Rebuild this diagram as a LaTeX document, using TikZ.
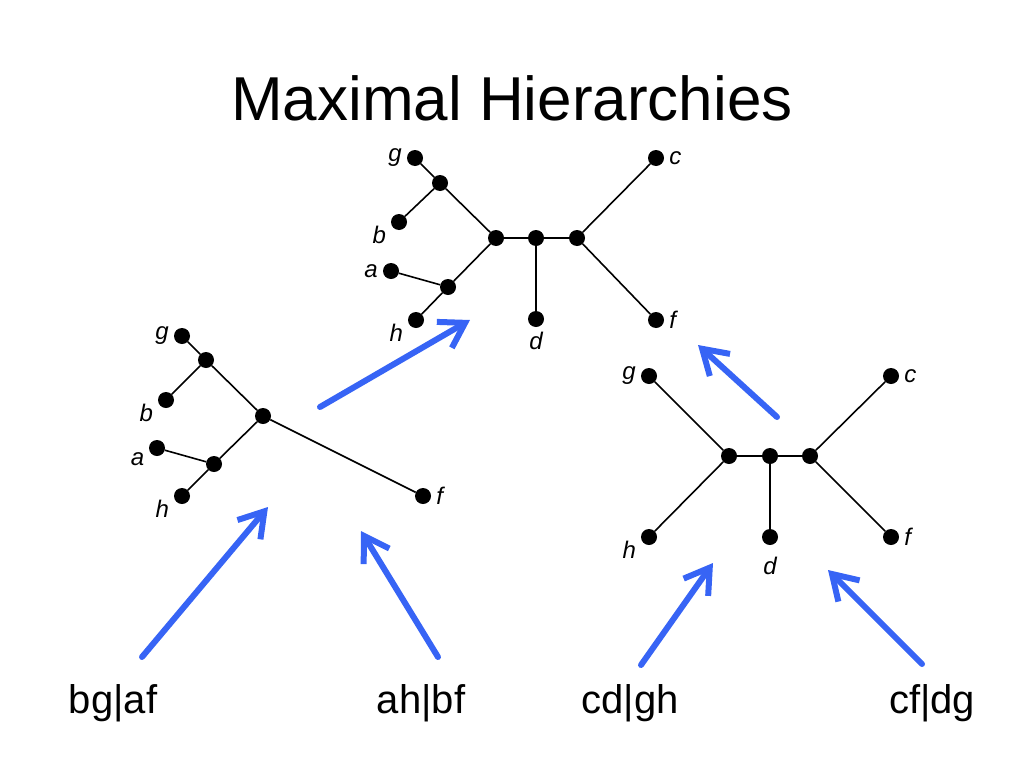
\documentclass[tikz,border=0pt]{standalone}
\usepackage{fontspec}
\setmainfont{Liberation Sans}
\usetikzlibrary{arrows.meta, positioning}
\definecolor{arrowblue}{RGB}{55,100,245}

\begin{document}
\begin{tikzpicture}[x=1pt, y=-1pt,
        dot/.style={circle, fill=black, minimum size=16pt, inner sep=0pt},
        lab/.style={font=\fontsize{24}{28}\selectfont\itshape, inner sep=1pt},
        branch/.style={-, line width=1.6pt},
        refine/.style={-{Straight Barb[length=24pt, width=30pt]}, line width=6pt, line cap=round, arrowblue},
        split/.style={font=\fontsize{40}{48}\selectfont, anchor=base},
        label distance=4pt
    ]
        \useasboundingbox (0,0) rectangle (1024,768);
        \node[font=\fontsize{62}{74}\selectfont, anchor=base] (title) at (512,120) {Maximal Hierarchies};

        % Top tree
        \node[dot, label={[lab]left:g}] (tg) at (415,158) {};
        \node[dot] (tgb) at (440,183) {};
        \node[dot, label={[lab]196:b}] (tb) at (399,222) {};
        \node[dot, label={[lab]left:a}] (ta) at (391,271) {};
        \node[dot] (tah) at (448,287) {};
        \node[dot, label={[lab]195:h}] (th) at (416,320) {};
        \node[dot] (tc1) at (496,238) {};
        \node[dot] (tc2) at (536,238) {};
        \node[dot] (tc3) at (577,238) {};
        \node[dot, label={[lab]below:d}] (td) at (536,319) {};
        \node[dot, label={[lab]right:c}] (tc) at (656,158) {};
        \node[dot, label={[lab]right:f}] (tf) at (656,320) {};

        \draw[branch] (tg) -- (tgb) -- (tc1);
        \draw[branch] (tb) -- (tgb);
        \draw[branch] (ta) -- (tah) -- (tc1);
        \draw[branch] (th) -- (tah);
        \draw[branch] (tc1) -- (tc2) -- (tc3);
        \draw[branch] (tc2) -- (td);
        \draw[branch] (tc3) -- (tc);
        \draw[branch] (tc3) -- (tf);

        % Left tree
        \node[dot, label={[lab]left:g}] (lg) at (182,336) {};
        \node[dot] (lgb) at (206,360) {};
        \node[dot, label={[lab]195:b}] (lb) at (166,400) {};
        \node[dot, label={[lab]197:a}] (la) at (157,448) {};
        \node[dot] (lah) at (214,464) {};
        \node[dot, label={[lab]195:h}] (lh) at (182,496) {};
        \node[dot] (lc) at (263,416) {};
        \node[dot, label={[lab]right:f}] (lf) at (423,496) {};

        \draw[branch] (lg) -- (lgb) -- (lc);
        \draw[branch] (lb) -- (lgb);
        \draw[branch] (la) -- (lah) -- (lc);
        \draw[branch] (lh) -- (lah);
        \draw[branch] (lc) -- (lf);

        % Right tree
        \node[dot, label={[lab]left:g}] (rg) at (649,376) {};
        \node[dot, label={[lab]195:h}] (rh) at (649,537) {};
        \node[dot] (r1) at (729,456) {};
        \node[dot] (r2) at (770,456) {};
        \node[dot] (r3) at (810,456) {};
        \node[dot, label={[lab, label distance=11pt]below:d}] (rd) at (770,537) {};
        \node[dot, label={[lab]right:c}] (rc) at (891,376) {};
        \node[dot, label={[lab]right:f}] (rf) at (891,537) {};

        \draw[branch] (rg) -- (r1);
        \draw[branch] (rh) -- (r1);
        \draw[branch] (r1) -- (r2) -- (r3);
        \draw[branch] (r2) -- (rd);
        \draw[branch] (r3) -- (rc);
        \draw[branch] (r3) -- (rf);

        % Splits
        \node[split] (bgaf) at (113,713) {bg|af};
        \node[split] (ahbf) at (421,713) {ah|bf};
        \node[split] (cdgh) at (630,713) {cd|gh};
        \node[split] (cfdg) at (932,713) {cf|dg};

        % Arrows
        \coordinate (a1s) at (320,407); \coordinate (a1e) at (470,320);
        \coordinate (a2s) at (142,657); \coordinate (a2e) at (268,507);
        \coordinate (a3s) at (438,657); \coordinate (a3e) at (361,531);
        \coordinate (a4s) at (777,417); \coordinate (a4e) at (698,345);
        \coordinate (a5s) at (641,665); \coordinate (a5e) at (713,563);
        \coordinate (a6s) at (922,664); \coordinate (a6e) at (828,570);

        \draw[refine] (a1s) -- (a1e);
        \draw[refine] (a2s) -- (a2e);
        \draw[refine] (a3s) -- (a3e);
        \draw[refine] (a4s) -- (a4e);
        \draw[refine] (a5s) -- (a5e);
        \draw[refine] (a6s) -- (a6e);
    \end{tikzpicture}
\end{document}
